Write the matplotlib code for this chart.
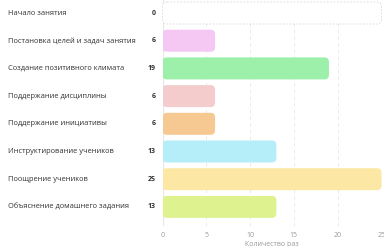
import matplotlib.pyplot as plt
from matplotlib.patches import FancyBboxPatch

categories = [
    "Начало занятия",
    "Постановка целей и задач занятия",
    "Создание позитивного климата",
    "Поддержание дисциплины",
    "Поддержание инициативы",
    "Инструктирование учеников",
    "Поощрение учеников",
    "Объяснение домашнего задания",
]
values = [0, 6, 19, 6, 6, 13, 25, 13]
colors = ["#ffffff", "#f5c8f3", "#9cf0aa", "#f5cccc", "#f6c993",
          "#b5eef8", "#fce8a4", "#def390"]
xticks = [0, 5, 10, 15, 20, 25]

plt.rcParams["font.family"] = ["Open Sans", "DejaVu Sans"]

W, H = 384, 246
fig = plt.figure(figsize=(W / 100, H / 100), dpi=100)
left, right, top, bottom = 162.5, 381.5, 0, 226
ax = fig.add_axes([left / W, 1 - bottom / H, (right - left) / W, (bottom - top) / H])

xmax = 25
y0, y1 = -0.47, 7.69
ax.set_xlim(0, xmax)
ax.set_ylim(y1, y0)

px_x = (right - left) / xmax
px_y = (bottom - top) / (y1 - y0)
aspect = px_x / px_y
r = 4.5 / px_x
bh = 22 / px_y

for i, (v, c) in enumerate(zip(values, colors)):
    if v == 0:
        p = FancyBboxPatch((0, i - bh / 2), xmax, bh,
                           boxstyle=f"round,pad=0,rounding_size={r}",
                           mutation_aspect=aspect, facecolor="white",
                           edgecolor="#d8d8d8", linestyle=(0, (2, 2)), lw=0.6,
                           zorder=3, clip_on=False)
    else:
        p = FancyBboxPatch((0, i - bh / 2), v, bh,
                           boxstyle=f"round,pad=0,rounding_size={r}",
                           mutation_aspect=aspect, facecolor=c,
                           edgecolor="none", zorder=3)
    ax.add_patch(p)
    ax.text(-7 / px_x, i, str(v), ha="right", va="center", fontsize=5,
            fontweight="bold", color="#333333")
    ax.text(8 / W, 1 - (top + (i - y0) * px_y) / H, categories[i],
            transform=fig.transFigure, ha="left", va="center",
            fontsize=5.4, color="#333333")

for t in xticks:
    if t == 0:
        ax.axvline(t, color="#e6e6e6", lw=0.8, zorder=1)
    else:
        ax.axvline(t, color="#e6e6e6", lw=0.6, linestyle=(0, (4, 4)), zorder=1)

ax.set_xticks(xticks)
ax.set_yticks([])
ax.tick_params(axis="x", length=0, labelsize=5, labelcolor="#999999", pad=4)
for s in ax.spines.values():
    s.set_visible(False)
ax.set_xlabel("Количество раз", fontsize=5, color="#999999", labelpad=2)

fig.savefig("out.png", dpi=100)
